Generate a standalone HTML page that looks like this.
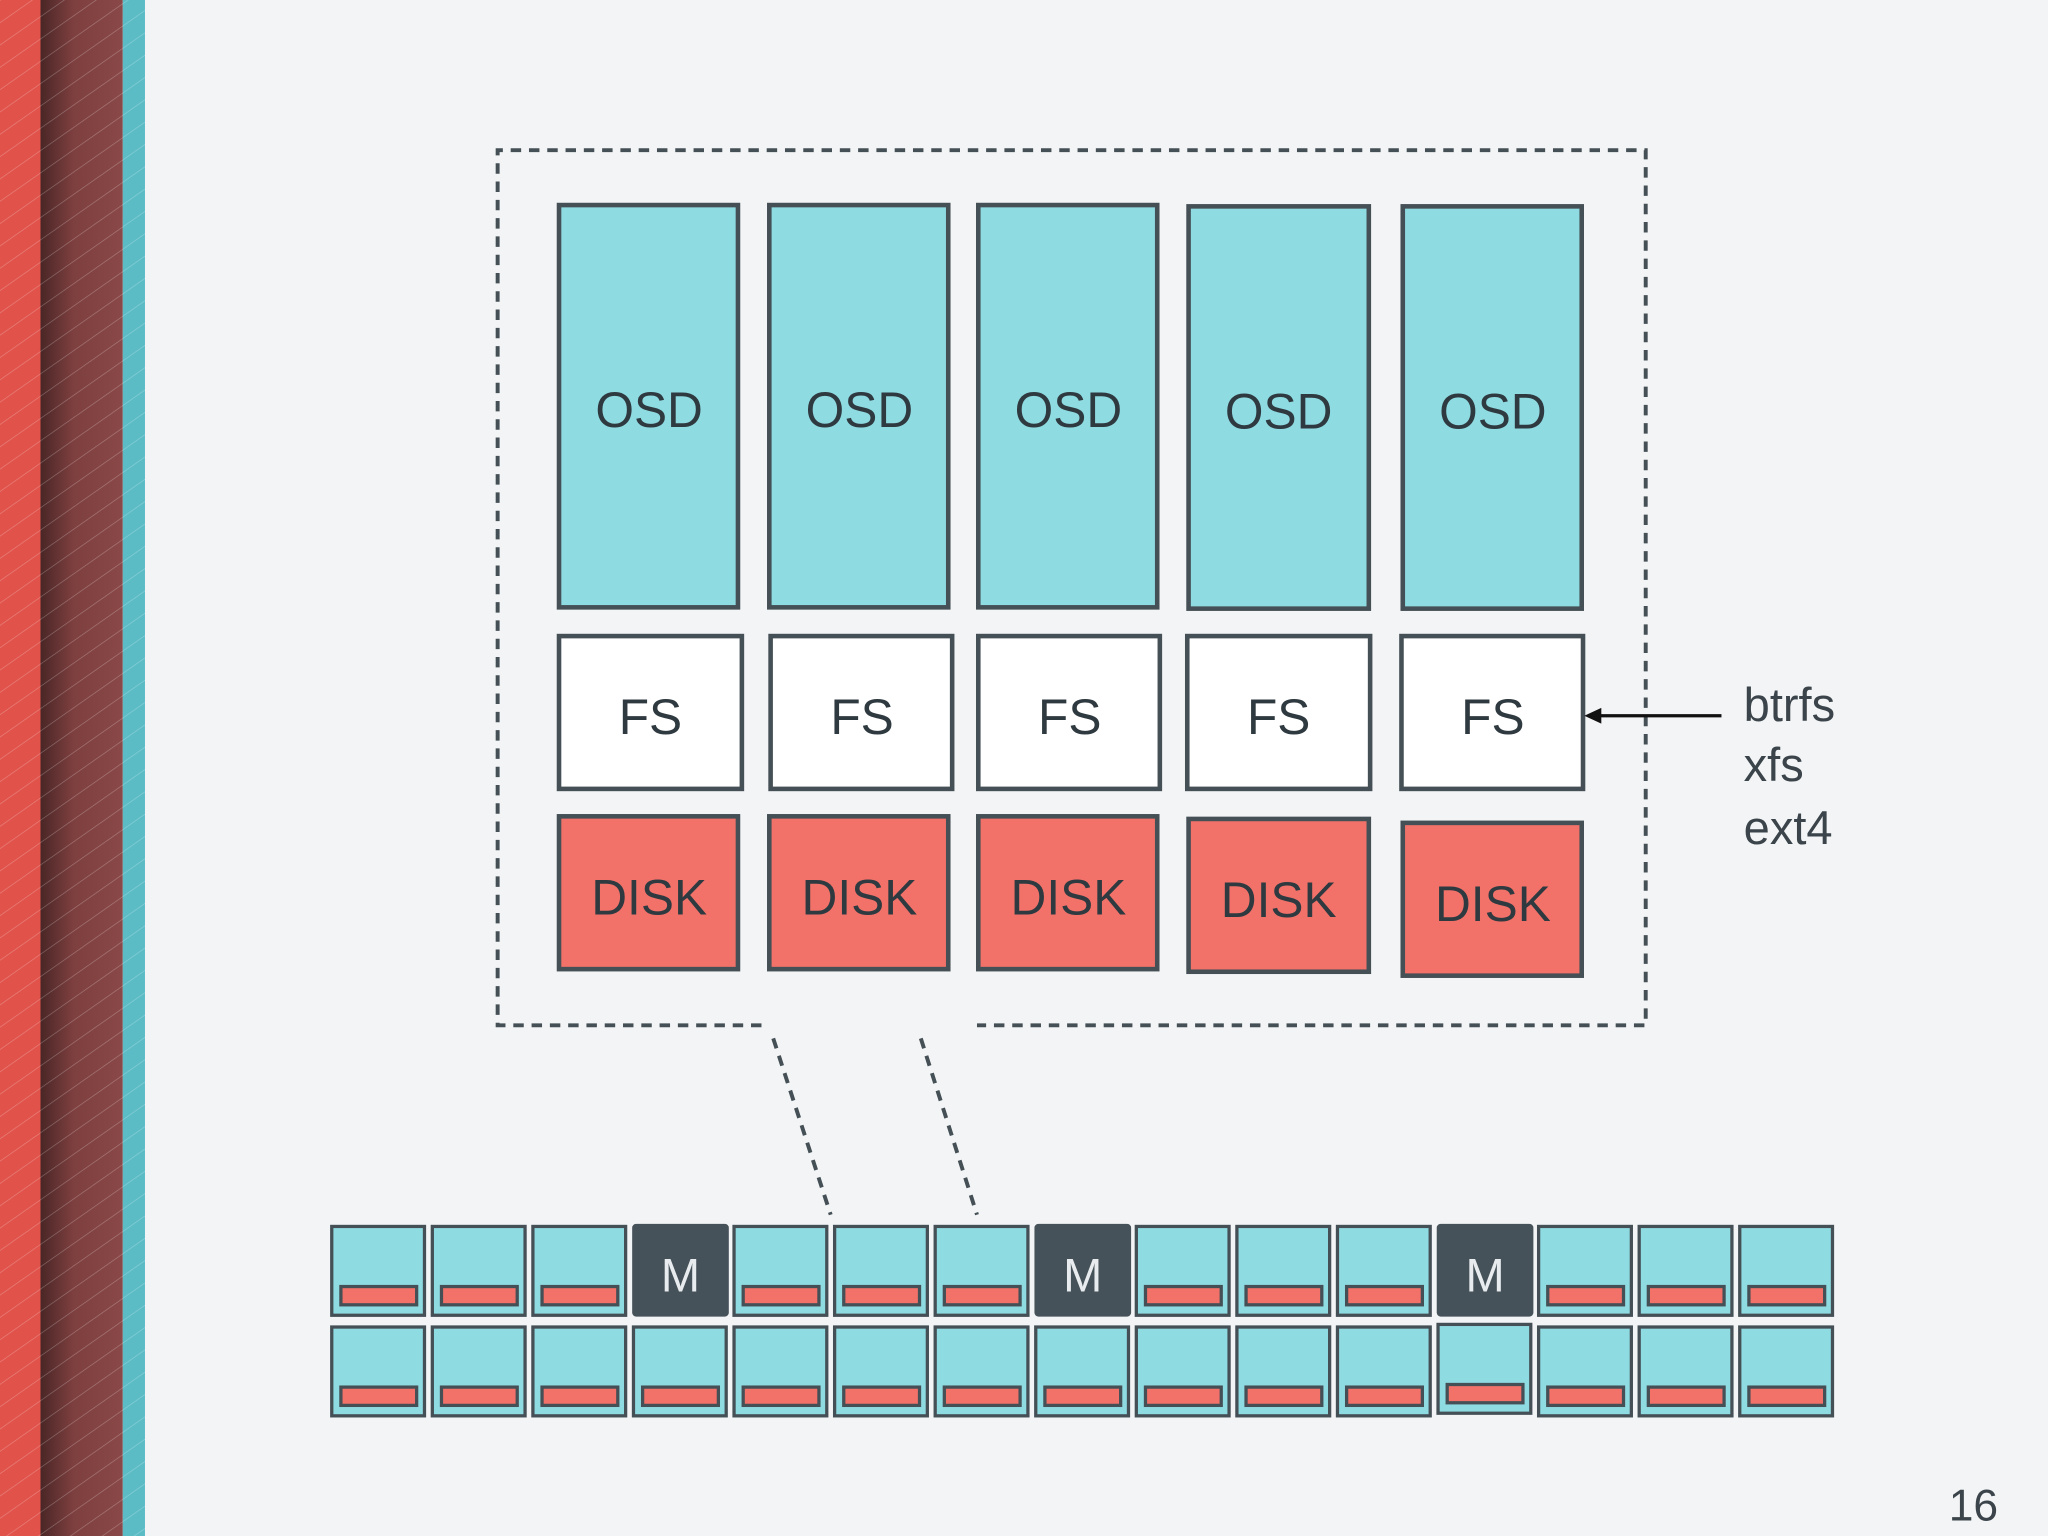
<!DOCTYPE html>
<html><head><style>html,body{margin:0;padding:0;background:#f3f4f5}svg{display:block}</style></head><body>
<svg width="2048" height="1536" viewBox="0 0 1568 1176" xmlns="http://www.w3.org/2000/svg" xmlns:xlink="http://www.w3.org/1999/xlink" font-family="Liberation Sans, sans-serif">
<defs>
<pattern id="st" width="14" height="14" patternUnits="userSpaceOnUse" patternTransform="rotate(-35)">
<line x1="0" y1="0" x2="14" y2="0" stroke="#ffffff" stroke-opacity="0.3" stroke-width="1"/></pattern>
<linearGradient id="dk" x1="0" x2="1"><stop offset="0" stop-color="#4a2626"/><stop offset="0.4" stop-color="#7e3f3f"/><stop offset="1" stop-color="#8a4848"/></linearGradient>
<g id="c" stroke="#444f56" stroke-width="2.5"><rect x="0" y="0" width="71" height="68" fill="#8fdbe2"/><rect x="7" y="46" width="58" height="14" fill="#f2726a"/></g>
<g id="m"><rect x="-1" y="-2" width="74" height="71" rx="3" fill="#465259"/><text x="36" y="50" font-size="36" fill="#e8ecee" text-anchor="middle">M</text></g>
</defs>
<rect width="1568" height="1176" fill="#f3f4f5"/>
<rect x="0" y="0" width="31" height="1176" fill="#e0524a"/>
<rect x="31" y="0" width="63" height="1176" fill="url(#dk)"/>
<rect x="94" y="0" width="17" height="1176" fill="#5bbcc6"/>
<rect x="0" y="0" width="111" height="1176" fill="url(#st)"/>
<g stroke="#444f56" stroke-width="3" stroke-dasharray="8,6" fill="none">
<path d="M583 785 H381 V115 H1260 V785 H748"/>
<line x1="592" y1="795" x2="636" y2="930"/>
<line x1="705" y1="795" x2="748" y2="930"/>
</g>
<g stroke="#444f56" stroke-width="3.5" fill="#8fdbe2">
<rect x="428" y="157" width="137" height="308"/>
<rect x="589" y="157" width="137" height="308"/>
<rect x="749" y="157" width="137" height="308"/>
<rect x="910" y="158" width="138" height="308"/>
<rect x="1074" y="158" width="137" height="308"/>
</g>
<g stroke="#444f56" stroke-width="3.5" fill="#ffffff">
<rect x="428" y="487" width="140" height="117"/>
<rect x="590" y="487" width="139" height="117"/>
<rect x="749" y="487" width="139" height="117"/>
<rect x="909" y="487" width="140" height="117"/>
<rect x="1073" y="487" width="139" height="117"/>
</g>
<g stroke="#444f56" stroke-width="3.5" fill="#f2726a">
<rect x="428" y="625" width="137" height="117"/>
<rect x="589" y="625" width="137" height="117"/>
<rect x="749" y="625" width="137" height="117"/>
<rect x="910" y="627" width="138" height="117"/>
<rect x="1074" y="630" width="137" height="117"/>
</g>
<g font-size="38" fill="#2f3a40" text-anchor="middle">
<text x="497" y="327">OSD</text><text x="658" y="327">OSD</text><text x="818" y="327">OSD</text><text x="979" y="328">OSD</text><text x="1143" y="328">OSD</text>
<text x="498" y="562">FS</text><text x="660" y="562">FS</text><text x="819" y="562">FS</text><text x="979" y="562">FS</text><text x="1143" y="562">FS</text>
<text x="497" y="700">DISK</text><text x="658" y="700">DISK</text><text x="818" y="700">DISK</text><text x="979" y="702">DISK</text><text x="1143" y="705">DISK</text>
</g>
<line x1="1318" y1="548" x2="1222" y2="548" stroke="#111" stroke-width="2.5"/>
<polygon points="1213,548 1226,542 1226,554" fill="#111"/>
<g font-size="36" fill="#3a444a">
<text x="1335" y="552">btrfs</text><text x="1335" y="598">xfs</text><text x="1335" y="646">ext4</text>
<text x="1492" y="1164" font-size="34">16</text>
</g>
<use xlink:href="#c" x="254" y="939"/><use xlink:href="#c" x="331" y="939"/><use xlink:href="#c" x="408" y="939"/><use xlink:href="#m" x="485" y="939"/><use xlink:href="#c" x="562" y="939"/><use xlink:href="#c" x="639" y="939"/><use xlink:href="#c" x="716" y="939"/><use xlink:href="#m" x="793" y="939"/><use xlink:href="#c" x="870" y="939"/><use xlink:href="#c" x="947" y="939"/><use xlink:href="#c" x="1024" y="939"/><use xlink:href="#m" x="1101" y="939"/><use xlink:href="#c" x="1178" y="939"/><use xlink:href="#c" x="1255" y="939"/><use xlink:href="#c" x="1332" y="939"/>
<use xlink:href="#c" x="254" y="1016"/><use xlink:href="#c" x="331" y="1016"/><use xlink:href="#c" x="408" y="1016"/><use xlink:href="#c" x="485" y="1016"/><use xlink:href="#c" x="562" y="1016"/><use xlink:href="#c" x="639" y="1016"/><use xlink:href="#c" x="716" y="1016"/><use xlink:href="#c" x="793" y="1016"/><use xlink:href="#c" x="870" y="1016"/><use xlink:href="#c" x="947" y="1016"/><use xlink:href="#c" x="1024" y="1016"/><use xlink:href="#c" x="1101" y="1014"/><use xlink:href="#c" x="1178" y="1016"/><use xlink:href="#c" x="1255" y="1016"/><use xlink:href="#c" x="1332" y="1016"/>
</svg>
</body></html>
